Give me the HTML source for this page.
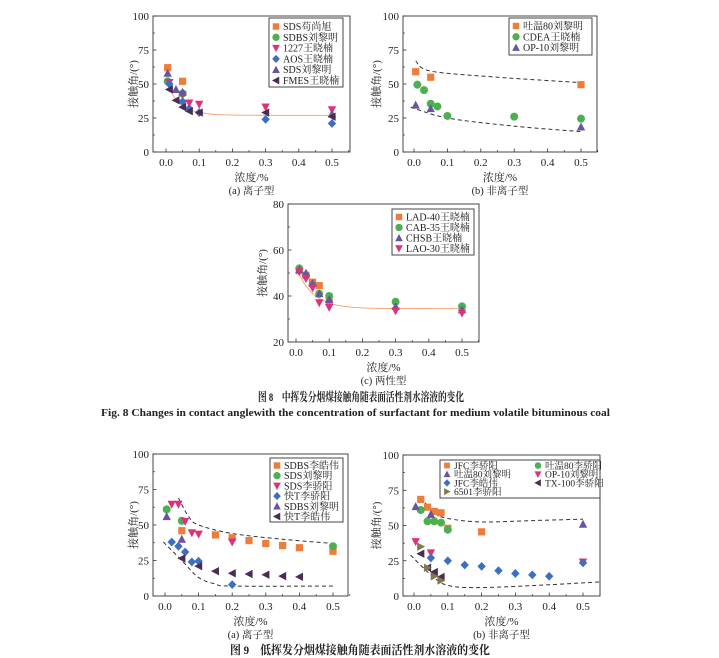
<!DOCTYPE html>
<html><head><meta charset="utf-8"><style>
html,body{margin:0;padding:0;background:#fff;}
svg{display:block;}
text{font-family:"Liberation Serif","Noto Serif CJK SC",serif;fill:#222;}
</style></head><body>
<svg id="s" width="719" height="658" viewBox="0 0 719 658" xmlns="http://www.w3.org/2000/svg"></svg>
<script>
const S=document.getElementById('s');const NS='http://www.w3.org/2000/svg';
function el(t,a,txt){const e=document.createElementNS(NS,t);for(const k in a)e.setAttribute(k,a[k]);if(txt!==undefined)e.textContent=txt;S.appendChild(e);return e;}
const C={o:'#ef7d3a',g:'#4cb050',m:'#e0307c',b:'#3d6fc0',p:'#6b52a3',d:'#4a2c55',v:'#7d7a4c'};
function marker(m,x,y,c,k){const r=3.6*(k||1);let p;
 if(m=='s')return el('rect',{x:x-r,y:y-r,width:2*r,height:2*r,fill:c});
 if(m=='c')return el('circle',{cx:x,cy:y,r:r+0.4,fill:c});
 if(m=='u')p=[[x,y-r-0.8],[x+r+0.6,y+r],[x-r-0.6,y+r]];
 if(m=='dn')p=[[x,y+r+0.8],[x+r+0.6,y-r],[x-r-0.6,y-r]];
 if(m=='dm')p=[[x,y-r-0.8],[x+r+0.6,y],[x,y+r+0.8],[x-r-0.6,y]];
 if(m=='l')p=[[x-r-0.8,y],[x+r,y-r-0.6],[x+r,y+r+0.6]];
 if(m=='r')p=[[x+r+0.8,y],[x-r,y-r-0.6],[x-r,y+r+0.6]];
 return el('polygon',{points:p.map(q=>q.join(',')).join(' '),fill:c});}
function cr(pts){let d='M'+pts[0][0]+','+pts[0][1];for(let i=0;i<pts.length-1;i++){const p0=pts[i-1]||pts[i],p1=pts[i],p2=pts[i+1],p3=pts[i+2]||p2;
 d+=' C'+(p1[0]+(p2[0]-p0[0])/6)+','+(p1[1]+(p2[1]-p0[1])/6)+' '+(p2[0]-(p3[0]-p1[0])/6)+','+(p2[1]-(p3[1]-p1[1])/6)+' '+p2[0]+','+p2[1];}return d;}
function plot(c){
 const X=x=>c.x0+x/0.5*(c.x5-c.x0),Y=y=>c.B-(y-c.ymin)/(c.ymax-c.ymin)*(c.B-c.T);
 el('rect',{x:c.L,y:c.T,width:c.R-c.L,height:c.B-c.T,fill:'none',stroke:'#333','stroke-width':0.9});
 ['0.0','0.1','0.2','0.3','0.4','0.5'].forEach((t,i)=>{const x=X(i*0.1);el('line',{x1:x,y1:c.B,x2:x,y2:c.B-3.5,stroke:'#333','stroke-width':0.8});
  el('line',{x1:X(i*0.1+0.05),y1:c.B,x2:X(i*0.1+0.05),y2:c.B-2,stroke:'#333','stroke-width':0.7});
  el('text',{x:x,y:c.B+14,'font-size':11,'text-anchor':'middle'},t);});
 c.yt.forEach((t,i)=>{const y=Y(+t);el('line',{x1:c.L,y1:y,x2:c.L+3.5,y2:y,stroke:'#333','stroke-width':0.8});
  if(i<c.yt.length-1){const ym=Y(+t+(c.yt[1]-c.yt[0])/2);el('line',{x1:c.L,y1:ym,x2:c.L+2,y2:ym,stroke:'#333','stroke-width':0.7});}
  el('text',{x:c.L-4,y:y+4,'font-size':11,'text-anchor':'end'},t);});
 el('text',{x:c.yl,y:(c.T+c.B)/2,'font-size':11,'text-anchor':'middle',transform:'rotate(-90 '+c.yl+' '+(c.T+c.B)/2+')'},'接触角/(°)');
 el('text',{x:(c.L+c.R)/2,y:c.B+29,'font-size':11,'text-anchor':'middle'},'浓度/%');
 el('text',{x:(c.L+c.R)/2,y:c.B+42,'font-size':10.5,'text-anchor':'middle'},c.sub);
 (c.curves||[]).forEach(k=>el('path',{d:cr(k.p.map(q=>[X(q[0]),Y(q[1])])),fill:'none',stroke:k.c||'#333','stroke-width':k.w||1,'stroke-dasharray':k.dash?'4,3':'none'}));
 c.s.forEach(s=>s.p.forEach(q=>marker(s.m,X(q[0]),Y(q[1]),C[s.c])));
 const g=c.lg;el('rect',{x:g.x,y:g.y,width:g.w,height:g.h,fill:'#fff',stroke:'#333','stroke-width':0.9});
 g.items.forEach((it,i)=>{const col=g.cols?i%2:0,row=g.cols?Math.floor(i/2):i;const mx=g.x+7+col*(g.cw||0),my=g.y+g.r0+row*g.rh;
  marker(it[0],mx,my,C[it[1]],g.ms||0.9);el('text',{x:mx+7,y:my+3.5,'font-size':g.fs||10},it[2]);});
}
function fx(f,a,b){const r=[];for(let x=a;x<=b+1e-9;x+=0.01)r.push([x,f(x)]);return r;}
plot({L:153,R:350,T:16,B:152,x0:166,x5:332,ymin:0,ymax:100,yt:['0','25','50','75','100'],yl:137,sub:'(a) 离子型',
 curves:[{p:fx(x=>27+25*Math.exp(-x/0.04),0.005,0.5),c:'#f0a070',w:0.9}],
 s:[{m:'s',c:'o',p:[[0.005,62],[0.05,52]]},{m:'c',c:'g',p:[[0.005,52],[0.05,43]]},
 {m:'dn',c:'m',p:[[0.01,51],[0.05,42],[0.07,36],[0.1,35],[0.3,33],[0.5,31]]},
 {m:'dm',c:'b',p:[[0.01,50],[0.05,37],[0.07,32],[0.1,29],[0.3,24],[0.5,21]]},
 {m:'u',c:'p',p:[[0.005,58],[0.03,46],[0.05,44],[0.5,28]]},
 {m:'l',c:'d',p:[[0.01,46],[0.03,38],[0.05,33],[0.07,30],[0.1,29],[0.3,29],[0.5,26]]}],
 lg:{x:269,y:18,w:74,h:69,r0:8.5,rh:10.8,items:[['s','o','SDS苟尚旭'],['c','g','SDBS刘黎明'],['dn','m','1227王晓楠'],['dm','b','AOS王晓楠'],['u','p','SDS刘黎明'],['l','d','FMES王晓楠']]}});
plot({L:403,R:597,T:16,B:152,x0:414,x5:581,ymin:0,ymax:100,yt:['0','25','50','75','100'],yl:380,sub:'(b) 非离子型',
 curves:[{p:[[0.005,67],[0.05,59.5],[0.25,55],[0.5,51]],dash:1},{p:[[-0.01,33],[0.1,25],[0.3,19],[0.5,15]],dash:1}],
 s:[{m:'s',c:'o',p:[[0.005,59],[0.05,55],[0.5,49.5]]},
 {m:'c',c:'g',p:[[0.01,49.5],[0.03,45.5],[0.05,35.5],[0.07,33.5],[0.1,26.5],[0.3,26],[0.5,24.5]]},
 {m:'u',c:'p',p:[[0.005,34.5],[0.05,32],[0.5,18.5]]}],
 lg:{x:509,y:18,w:83,h:37,r0:8,rh:10.8,items:[['s','o','吐温80刘黎明'],['c','g','CDEA王晓楠'],['u','p','OP-10刘黎明']]}});
plot({L:288,R:479,T:204,B:342,x0:296,x5:462,ymin:20,ymax:80,yt:['20','40','60','80'],yl:266,sub:'(c) 两性型',
 curves:[{p:fx(x=>34.5+18*Math.exp(-x/0.05),0.01,0.5),c:'#f0a070',w:0.9}],
 s:[{m:'s',c:'o',p:[[0.01,51],[0.03,49],[0.05,46],[0.07,44.5],[0.1,37.5]]},
 {m:'c',c:'g',p:[[0.01,52],[0.03,49],[0.05,45],[0.07,41],[0.1,40],[0.3,37.5],[0.5,35.5]]},
 {m:'u',c:'p',p:[[0.01,51.5],[0.03,50],[0.05,45.5],[0.07,41],[0.1,38.5],[0.3,35.5],[0.5,34]]},
 {m:'dn',c:'m',p:[[0.01,50.5],[0.03,47.5],[0.05,43.5],[0.07,37],[0.1,35],[0.3,33.5],[0.5,32.5]]}],
 lg:{x:392,y:209,w:82,h:46,r0:8,rh:10.5,items:[['s','o','LAD-40王晓楠'],['c','g','CAB-35王晓楠'],['u','p','CHSB王晓楠'],['dn','m','LAO-30王晓楠']]}});
plot({L:153,R:348,T:454,B:596,x0:165,x5:333,ymin:0,ymax:100,yt:['0','25','50','75','100'],yl:137,sub:'(a) 离子型',
 curves:[{p:[[0.04,69],[0.07,56],[0.1,50],[0.2,44],[0.35,40],[0.5,37]],dash:1},{p:[[-0.005,38],[0.05,25],[0.1,13],[0.15,8.5],[0.2,7],[0.5,7]],dash:1}],
 s:[{m:'s',c:'o',p:[[0.05,46],[0.15,43],[0.2,41],[0.25,39],[0.3,37],[0.35,35.5],[0.4,34],[0.5,31.5]]},
 {m:'c',c:'g',p:[[0.005,61],[0.05,53],[0.5,35]]},
 {m:'dn',c:'m',p:[[0.02,64.5],[0.04,64.5],[0.06,52.5],[0.08,44.5],[0.1,43.5],[0.2,38]]},
 {m:'dm',c:'b',p:[[0.02,38],[0.04,35],[0.06,31],[0.08,24],[0.1,24.5],[0.2,8]]},
 {m:'u',c:'p',p:[[0.005,56],[0.05,40]]},
 {m:'l',c:'d',p:[[0.05,26.5],[0.1,21],[0.15,17.5],[0.2,16],[0.25,15.5],[0.3,15],[0.35,14],[0.4,13.5]]}],
 lg:{x:270,y:458,w:73,h:64,r0:7.5,rh:10.2,items:[['s','o','SDBS李皓伟'],['c','g','SDS刘黎明'],['dn','m','SDS李骄阳'],['dm','b','快T李骄阳'],['u','p','SDBS刘黎明'],['l','d','快T李皓伟']]}});
plot({L:403,R:600,T:455,B:596,x0:414,x5:583,ymin:0,ymax:100,yt:['0','25','50','75','100'],yl:380,sub:'(b) 非离子型',
 curves:[{p:[[0.02,70],[0.06,59],[0.1,55],[0.2,52.5],[0.35,53.5],[0.5,54.5]],dash:1},{p:[[-0.01,29],[0.05,15],[0.1,7.5],[0.2,6],[0.4,8],[0.55,10]],dash:1}],
 s:[{m:'s',c:'o',p:[[0.02,68.5],[0.04,63],[0.06,60],[0.08,59],[0.1,48],[0.2,45.5]]},
 {m:'c',c:'g',p:[[0.02,61],[0.04,53],[0.06,53],[0.08,52],[0.1,47]]},
 {m:'u',c:'p',p:[[0.005,63.5],[0.05,58],[0.5,51]]},
 {m:'dn',c:'m',p:[[0.005,38.5],[0.05,30.5],[0.5,24]]},
 {m:'dm',c:'b',p:[[0.05,27],[0.1,25],[0.15,22],[0.2,21],[0.25,18],[0.3,16],[0.35,15],[0.4,14],[0.5,23.5]]},
 {m:'l',c:'d',p:[[0.02,30],[0.04,20],[0.06,17],[0.08,13.5]]},
 {m:'r',c:'v',p:[[0.02,35],[0.04,20],[0.06,14],[0.08,11]]}],
 lg:{x:440,y:460,w:160,h:38,r0:5.5,rh:8.7,cols:2,cw:91,fs:9.5,ms:0.8,items:[['s','o','JFC李骄阳'],['c','g','吐温80李骄阳'],['u','p','吐温80刘黎明'],['dn','m','OP-10刘黎明'],['dm','b','JFC李皓伟'],['l','d','TX-100李骄阳'],['r','v','6501李骄阳']]}});
el('text',{x:258,y:401,'font-size':12,'font-weight':'bold','font-family':'"Liberation Sans","Noto Sans CJK SC",sans-serif',textLength:206,lengthAdjust:'spacingAndGlyphs'},'图 8　中挥发分烟煤接触角随表面活性剂水溶液的变化');
el('text',{x:101,y:416,'font-size':11,'font-weight':'bold',textLength:509,lengthAdjust:'spacingAndGlyphs'},'Fig. 8   Changes in contact anglewith the concentration of surfactant for medium volatile bituminous coal');
el('text',{x:230,y:654,'font-size':12,'font-weight':'bold','font-family':'"Liberation Sans","Noto Sans CJK SC",sans-serif',textLength:260,lengthAdjust:'spacingAndGlyphs'},'图 9　低挥发分烟煤接触角随表面活性剂水溶液的变化');
</script>
</body></html>
